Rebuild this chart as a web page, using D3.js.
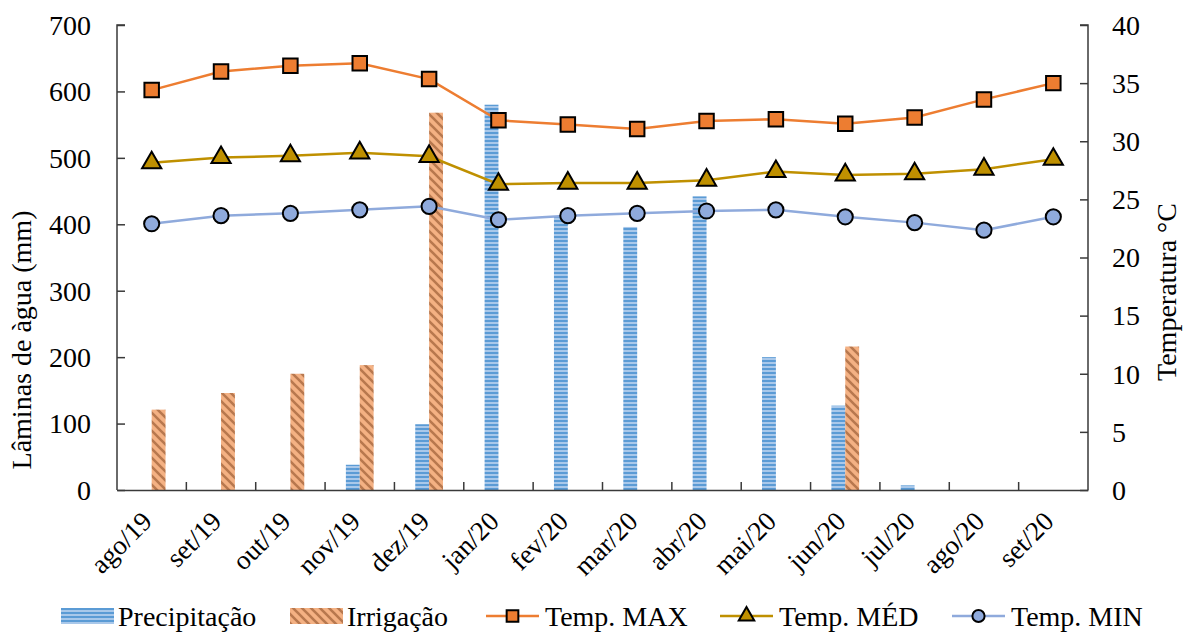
<!DOCTYPE html>
<html>
<head>
<meta charset="utf-8">
<script src="https://cdn.jsdelivr.net/npm/d3@7"></script>
<style>
  html, body { margin: 0; padding: 0; background: #fff; }
  svg { display: block; }
  text { font-family: "Liberation Serif", "Times New Roman", serif; fill: #000; }
</style>
</head>
<body>
<svg id="chart" width="1191" height="635"></svg>
<script>
// Monthly categories
const months = ["ago/19","set/19","out/19","nov/19","dez/19","jan/20","fev/20","mar/20","abr/20","mai/20","jun/20","jul/20","ago/20","set/20"];

// Water depths (mm)
const precipitacao = [0, 0, 0, 38, 99, 580, 411, 396, 442, 200, 127, 7, 0, 0];
const irrigacao    = [121, 146, 175, 188, 568, 0, 0, 0, 0, 0, 216, 0, 0, 0];

// Temperatures (°C)
const tempMax = [34.4, 36.0, 36.5, 36.7, 35.35, 31.8, 31.45, 31.05, 31.75, 31.9, 31.5, 32.05, 33.6, 35.0];
const tempMed = [28.15, 28.6, 28.75, 29.0, 28.7, 26.3, 26.4, 26.4, 26.65, 27.4, 27.1, 27.2, 27.6, 28.45];
const tempMin = [22.9, 23.6, 23.8, 24.1, 24.4, 23.25, 23.6, 23.8, 24.0, 24.1, 23.5, 23.0, 22.35, 23.5];

// Axis ticks
const leftTicks  = [0, 100, 200, 300, 400, 500, 600, 700];
const rightTicks = [0, 5, 10, 15, 20, 25, 30, 35, 40];

const FS = 28;
const svg = d3.select("#chart");
const plot = { left: 117, right: 1088, top: 25, bottom: 490 };

const defs = svg.append("defs");
// Horizontal stripes for precipitation
const pPat = defs.append("pattern").attr("id", "patPrecip")
  .attr("patternUnits", "userSpaceOnUse").attr("width", 6).attr("height", 4);
pPat.append("rect").attr("width", 6).attr("height", 4).attr("fill", "#a9c8ea");
pPat.append("rect").attr("y", 0).attr("width", 6).attr("height", 2).attr("fill", "#5b9bd5");
// Diagonal stripes for irrigation
const iPat = defs.append("pattern").attr("id", "patIrrig")
  .attr("patternUnits", "userSpaceOnUse").attr("width", 9).attr("height", 9);
iPat.append("rect").attr("width", 9).attr("height", 9).attr("fill", "#f4b183");
iPat.append("path").attr("d", "M-3,-3 L12,12 M-3,6 L3,12 M6,-3 L12,3")
  .attr("stroke", "#b8784e").attr("stroke-width", 2.6).attr("fill", "none");

const x = d3.scaleBand().domain(months).range([plot.left, plot.right]).padding(0);
const yL = d3.scaleLinear().domain([0, 700]).range([plot.bottom, plot.top]);
const yR = d3.scaleLinear().domain([0, 40]).range([plot.bottom, plot.top]);
const barW = x.bandwidth() * 0.2;
const sub = d3.scaleBand().domain(["p", "i"])
  .range([x.bandwidth() / 2 - barW, x.bandwidth() / 2 + barW]).padding(0);

// Bars
const gBars = svg.append("g");
gBars.selectAll(".bp").data(months).join("rect")
  .attr("x", (d) => x(d) + sub("p"))
  .attr("width", sub.bandwidth())
  .attr("y", (d, i) => yL(precipitacao[i]))
  .attr("height", (d, i) => yL(0) - yL(precipitacao[i]))
  .attr("fill", "url(#patPrecip)");
gBars.selectAll(".bi").data(months).join("rect")
  .attr("x", (d) => x(d) + sub("i"))
  .attr("width", sub.bandwidth())
  .attr("y", (d, i) => yL(irrigacao[i]))
  .attr("height", (d, i) => yL(0) - yL(irrigacao[i]))
  .attr("fill", "url(#patIrrig)");

// Axes
const axisColor = "#3a3a3a";
const gL = svg.append("g").attr("transform", `translate(${plot.left},0)`)
  .call(d3.axisRight(yL).tickValues(leftTicks).tickSize(8).tickFormat(""));
const gR = svg.append("g").attr("transform", `translate(${plot.right},0)`)
  .call(d3.axisLeft(yR).tickValues(rightTicks).tickSize(8).tickFormat(""));
const gX = svg.append("g").attr("transform", `translate(0,${plot.bottom})`)
  .call(d3.axisTop(x).tickSize(0).tickFormat(""));
[gL, gR, gX].forEach(g => {
  g.select(".domain").attr("stroke", axisColor).attr("stroke-width", 1.5);
  g.selectAll(".tick line").attr("stroke", axisColor).attr("stroke-width", 1.5);
});
gL.select(".domain").attr("d", `M8,${plot.top}H0V${plot.bottom}`);
gR.select(".domain").attr("d", `M-8,${plot.top}H0V${plot.bottom}`);
// category boundary ticks on the x axis
gX.selectAll(".bound").data(months.slice(1)).join("line")
  .attr("x1", d => x(d)).attr("x2", d => x(d))
  .attr("y1", 0).attr("y2", -8)
  .attr("stroke", axisColor).attr("stroke-width", 1.5);

// Tick labels
svg.append("g").selectAll("text").data(leftTicks).join("text")
  .attr("x", 91).attr("y", d => yL(d)).attr("dy", "0.35em")
  .attr("text-anchor", "end").attr("font-size", FS).text(d => d);
svg.append("g").selectAll("text").data(rightTicks).join("text")
  .attr("x", 1112).attr("y", d => yR(d)).attr("dy", "0.35em")
  .attr("text-anchor", "start").attr("font-size", FS).text(d => d);
svg.append("g").selectAll("text").data(months).join("text")
  .attr("transform", d => `translate(${x(d) + x.bandwidth() / 2 + 2},${plot.bottom + 33}) rotate(-45)`)
  .attr("text-anchor", "end").attr("font-size", 27).text(d => d);

// Axis titles
svg.append("text").attr("transform", `translate(31,340) rotate(-90)`)
  .attr("text-anchor", "middle").attr("font-size", FS).text("Lâminas de àgua (mm)");
svg.append("text").attr("transform", `translate(1176,292) rotate(-90)`)
  .attr("text-anchor", "middle").attr("font-size", FS).text("Temperatura °C");

// Temperature series
const series = [
  { name: "Temp. MAX", values: tempMax, color: "#ed7d31", fill: "#ed7d31", shape: d3.symbolSquare, size: 210 },
  { name: "Temp. MÉD", values: tempMed, color: "#bf9000", fill: "#bf9000", shape: d3.symbolTriangle, size: 160 },
  { name: "Temp. MIN", values: tempMin, color: "#8faadc", fill: "#8faadc", shape: d3.symbolCircle, size: 180 }
];
const cx = d => x(d) + x.bandwidth() / 2;
series.forEach(s => {
  const line = d3.line().x((d, i) => cx(months[i])).y(d => yR(d));
  svg.append("path").datum(s.values).attr("d", line)
    .attr("fill", "none").attr("stroke", s.color).attr("stroke-width", 2.5);
  svg.append("g").selectAll("path").data(s.values).join("path")
    .attr("transform", (d, i) => `translate(${cx(months[i])},${yR(d)})`)
    .attr("d", d3.symbol().type(s.shape).size(s.size))
    .attr("fill", s.fill).attr("stroke", "#000").attr("stroke-width", 2);
});

// Legend
const leg = svg.append("g");
const ly = 616;
const lb = 626;
leg.append("rect").attr("x", 61).attr("y", ly - 8).attr("width", 53).attr("height", 16).attr("fill", "url(#patPrecip)");
leg.append("text").attr("x", 118).attr("y", lb).attr("font-size", FS).text("Precipitação");
leg.append("rect").attr("x", 290).attr("y", ly - 8).attr("width", 53).attr("height", 16).attr("fill", "url(#patIrrig)");
leg.append("text").attr("x", 347).attr("y", lb).attr("font-size", FS).text("Irrigação");
const legX = [486, 720, 952];
series.forEach((s, k) => {
  const x0 = legX[k];
  leg.append("line").attr("x1", x0).attr("x2", x0 + 53).attr("y1", ly).attr("y2", ly)
    .attr("stroke", s.color).attr("stroke-width", 2.5);
  leg.append("path").attr("transform", `translate(${x0 + 26.5},${ly})`)
    .attr("d", d3.symbol().type(s.shape).size(s.size * 0.65))
    .attr("fill", s.fill).attr("stroke", "#000").attr("stroke-width", 2);
  leg.append("text").attr("x", x0 + 59).attr("y", lb).attr("font-size", FS).text(s.name);
});
</script>
</body>
</html>
